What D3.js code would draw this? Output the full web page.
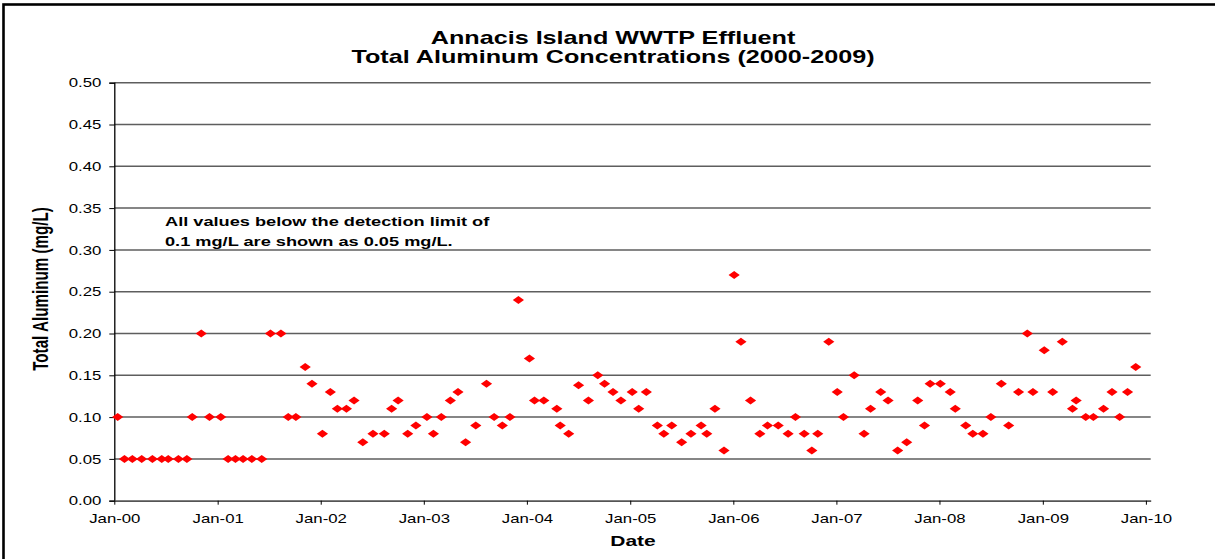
<!DOCTYPE html>
<html>
<head>
<meta charset="utf-8">
<script src="https://cdn.jsdelivr.net/npm/d3@7"></script>
<style>
  html, body { margin: 0; padding: 0; background: #fff; }
  svg { display: block; }
  text { font-family: "Liberation Sans", Arial, sans-serif; fill: #000; }
</style>
</head>
<body>
<svg id="chart" width="1215" height="559"></svg>
<script>
// ---- data ----
const titleLines = ["Annacis Island WWTP Effluent", "Total Aluminum Concentrations (2000-2009)"];
const noteLines = ["All values below the detection limit of", "0.1 mg/L are shown as 0.05 mg/L."];
const yAxisTitle = "Total Aluminum (mg/L)";
const xAxisTitle = "Date";

const sampleDates = [
  "2000-01-13","2000-02-06","2000-03-05","2000-04-07","2000-05-15","2000-06-17","2000-07-10","2000-08-15","2000-09-14","2000-10-03","2000-11-04","2000-12-03",
  "2001-01-12","2001-02-07","2001-03-05","2001-04-01","2001-05-02","2001-06-06","2001-07-07","2001-08-13","2001-09-08","2001-10-05","2001-11-07","2001-12-01",
  "2002-01-07","2002-02-04","2002-03-01","2002-04-02","2002-04-29","2002-05-30","2002-07-05","2002-08-14","2002-09-09","2002-10-02","2002-11-05","2002-12-04",
  "2003-01-12","2003-02-04","2003-03-04","2003-04-05","2003-05-02","2003-05-29","2003-07-04","2003-08-11","2003-09-07","2003-10-06","2003-11-02","2003-12-02",
  "2004-01-10","2004-01-28","2004-03-01","2004-04-16","2004-04-28","2004-05-28","2004-07-02","2004-08-06","2004-09-08","2004-10-02","2004-11-01","2004-11-29",
  "2005-01-08","2005-01-31","2005-02-27","2005-04-07","2005-04-30","2005-05-28","2005-07-02","2005-08-04","2005-09-09","2005-09-29","2005-10-28","2005-11-29",
  "2006-01-04","2006-01-28","2006-03-03","2006-04-05","2006-05-02","2006-06-09","2006-07-14","2006-08-09","2006-09-09","2006-10-06","2006-10-27","2006-12-05",
  "2007-01-04","2007-01-26","2007-03-05","2007-04-09","2007-05-02","2007-06-07","2007-07-03","2007-08-06","2007-09-07","2007-10-16","2007-11-09","2007-11-29",
  "2008-01-04","2008-02-08","2008-02-26","2008-04-03","2008-04-28","2008-06-03","2008-07-01","2008-08-07","2008-09-02","2008-10-07","2008-11-07","2008-11-27",
  "2009-01-06","2009-02-05","2009-03-11","2009-04-16","2009-04-29","2009-06-02","2009-06-29","2009-08-04","2009-09-03","2009-09-30","2009-10-28","2009-11-26"
];
const aluminum = [
  0.10,0.05,0.05,0.05,0.05,0.05,0.05,0.05,0.05,0.10,0.20,0.10,
  0.10,0.05,0.05,0.05,0.05,0.05,0.20,0.20,0.10,0.10,0.16,0.14,
  0.08,0.13,0.11,0.11,0.12,0.07,0.08,0.08,0.11,0.12,0.08,0.09,
  0.10,0.08,0.10,0.12,0.13,0.07,0.09,0.14,0.10,0.09,0.10,0.24,
  0.17,0.12,0.12,0.11,0.09,0.08,0.138,0.12,0.15,0.14,0.13,0.12,
  0.13,0.11,0.13,0.09,0.08,0.09,0.07,0.08,0.09,0.08,0.11,0.06,
  0.27,0.19,0.12,0.08,0.09,0.09,0.08,0.10,0.08,0.06,0.08,0.19,
  0.13,0.10,0.15,0.08,0.11,0.13,0.12,0.06,0.07,0.12,0.09,0.14,
  0.14,0.13,0.11,0.09,0.08,0.08,0.10,0.14,0.09,0.13,0.20,0.13,
  0.18,0.13,0.19,0.11,0.12,0.10,0.10,0.11,0.13,0.10,0.13,0.16
];
const yTickValues = [0, 0.05, 0.10, 0.15, 0.20, 0.25, 0.30, 0.35, 0.40, 0.45, 0.50];
const xTickDates = ["2000-01-01","2001-01-01","2002-01-01","2003-01-01","2004-01-01","2005-01-01","2006-01-01","2007-01-01","2008-01-01","2009-01-01","2010-01-01"];
const xTickLabels = ["Jan-00","Jan-01","Jan-02","Jan-03","Jan-04","Jan-05","Jan-06","Jan-07","Jan-08","Jan-09","Jan-10"];
const xDomain = ["2000-01-01", "2010-01-18"];
const yDomain = [0, 0.5];

// ---- layout ----
const SX = 1.4; // horizontal stretch of the original picture
const plot = { left: 114.3, right: 1150.7, top: 82.7, bottom: 500.7 };
const parse = d3.utcParse("%Y-%m-%d");

const svg = d3.select("#chart");

// outer frame
svg.append("rect")
  .attr("x", 3.5).attr("y", 4.5).attr("width", 1230).attr("height", 570)
  .attr("fill", "none").attr("stroke", "#000").attr("stroke-width", 2.6);

const x = d3.scaleUtc().domain(xDomain.map(parse)).range([plot.left, plot.right]);
const y = d3.scaleLinear().domain(yDomain).range([plot.bottom, plot.top]);

// gridlines
svg.append("g").selectAll("line")
  .data(yTickValues.filter(v => v > 0))
  .join("line")
  .attr("x1", plot.left).attr("x2", plot.right)
  .attr("y1", d => y(d)).attr("y2", d => y(d))
  .attr("stroke", "#5e5e5e").attr("stroke-width", 1.5);

// y axis
const yAxis = svg.append("g")
  .attr("transform", `translate(${plot.left},0)`)
  .call(d3.axisLeft(y).tickValues(yTickValues).tickFormat(d3.format(".2f")).tickSize(5).tickPadding(0));
yAxis.select(".domain").attr("stroke", "#000").attr("stroke-width", 1.3);
yAxis.selectAll(".tick line").attr("stroke", "#000").attr("stroke-width", 1);
yAxis.selectAll(".tick text")
  .attr("x", null).attr("dy", null)
  .attr("text-anchor", "end")
  .attr("dominant-baseline", "central")
  .attr("transform", `translate(-13,0) scale(${SX},1)`)
  .style("font-size", "12px").style("font-family", null);

// x axis
const xAxis = svg.append("g")
  .attr("transform", `translate(0,${plot.bottom})`)
  .call(d3.axisBottom(x).tickValues(xTickDates.map(parse))
    .tickFormat((d, i) => xTickLabels[i]).tickSizeInner(4).tickSizeOuter(0));
xAxis.select(".domain").attr("stroke", "#555").attr("stroke-width", 1.8);
xAxis.selectAll(".tick line").attr("stroke", "#000").attr("stroke-width", 1);
xAxis.selectAll(".tick text")
  .attr("y", null).attr("dy", null)
  .attr("text-anchor", "middle")
  .attr("transform", `translate(0,22) scale(${SX},1)`)
  .style("font-size", "12px").style("font-family", null);

// points
const pts = sampleDates.map((d, i) => ({ date: parse(d), value: aluminum[i] }));
const diamond = d3.symbol().type(d3.symbolSquare).size(32);
svg.append("g").selectAll("path")
  .data(pts)
  .join("path")
  .attr("d", diamond)
  .attr("transform", d => `translate(${x(d.date)},${y(d.value)}) scale(${SX},1) rotate(45)`)
  .attr("fill", "#ff0000");

// title
svg.append("g").selectAll("text")
  .data(titleLines)
  .join("text")
  .attr("text-anchor", "middle")
  .attr("transform", (d, i) => `translate(613,${43.5 + i * 19.5}) scale(${SX},1)`)
  .style("font-size", "18px").style("font-weight", "bold")
  .text(d => d);

// note
svg.append("g").selectAll("text")
  .data(noteLines)
  .join("text")
  .attr("text-anchor", "start")
  .attr("transform", (d, i) => `translate(165,${225.5 + i * 20}) scale(${SX},1)`)
  .style("font-size", "13px").style("font-weight", "bold")
  .text(d => d);

// axis titles
svg.append("text")
  .attr("text-anchor", "middle")
  .attr("transform", `translate(48,289) rotate(-90) scale(1,${SX})`)
  .style("font-size", "15.2px").style("font-weight", "bold")
  .text(yAxisTitle);

svg.append("text")
  .attr("text-anchor", "middle")
  .attr("transform", `translate(633,545.5) scale(${SX},1)`)
  .style("font-size", "15px").style("font-weight", "bold")
  .text(xAxisTitle);
</script>
</body>
</html>
